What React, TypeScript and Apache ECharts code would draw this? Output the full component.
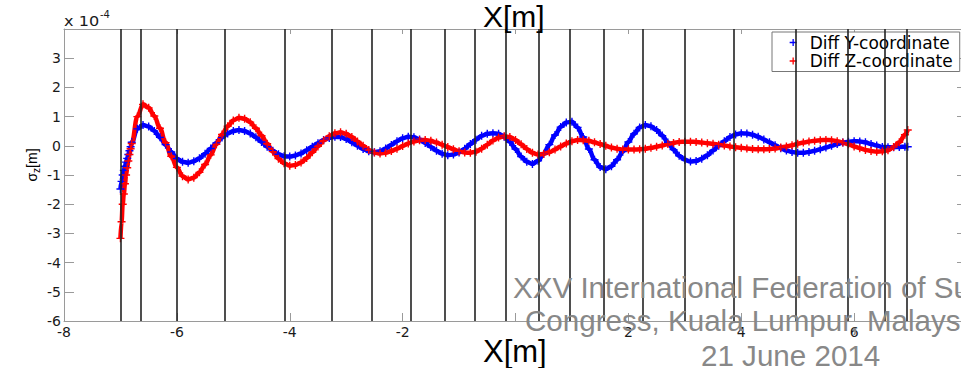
import React, { useEffect, useRef } from "react";
import * as echarts from "echarts";

// x positions [m]
const X = [
  -7.0, -6.98, -6.96, -6.94, -6.92, -6.9, -6.88, -6.86, -6.84, -6.82, -6.8,
  -6.7, -6.6, -6.5, -6.4, -6.3, -6.2, -6.1, -6.0, -5.9, -5.8,
  -5.7, -5.6, -5.5, -5.4, -5.3, -5.2, -5.1, -5.0, -4.9, -4.8,
  -4.7, -4.6, -4.5, -4.4, -4.3, -4.2, -4.1, -4.0, -3.9, -3.8,
  -3.7, -3.6, -3.5, -3.4, -3.3, -3.2, -3.1, -3.0, -2.9, -2.8,
  -2.7, -2.6, -2.5, -2.4, -2.3, -2.2, -2.1, -2.0, -1.9, -1.8,
  -1.7, -1.6, -1.5, -1.4, -1.3, -1.2, -1.1, -1.0, -0.9, -0.8,
  -0.7, -0.6, -0.5, -0.4, -0.3, -0.2, -0.1, 0.0, 0.1, 0.2,
  0.3, 0.4, 0.5, 0.6, 0.7, 0.8, 0.9, 1.0, 1.1, 1.2,
  1.3, 1.4, 1.5, 1.6, 1.7, 1.8, 1.9, 2.0, 2.1, 2.2,
  2.3, 2.4, 2.5, 2.6, 2.7, 2.8, 2.9, 3.0, 3.1, 3.2,
  3.3, 3.4, 3.5, 3.6, 3.7, 3.8, 3.9, 4.0, 4.1, 4.2,
  4.3, 4.4, 4.5, 4.6, 4.7, 4.8, 4.9, 5.0, 5.1, 5.2,
  5.3, 5.4, 5.5, 5.6, 5.7, 5.8, 5.9, 6.0, 6.1, 6.2,
  6.3, 6.4, 6.5, 6.6, 6.7, 6.8, 6.9, 6.95,
];

// Diff Y-coordinate (x 10^-4 m)
const DIFF_Y = [
  -1.48, -1.22, -1.0, -0.84, -0.7, -0.56, -0.43, -0.3, -0.17, -0.03, 0.12,
  0.58, 0.71, 0.66, 0.51, 0.29, 0.04, -0.21, -0.44, -0.55, -0.58,
  -0.53, -0.43, -0.27, -0.09, 0.1, 0.28, 0.42, 0.51, 0.54, 0.51,
  0.42, 0.29, 0.13, -0.03, -0.17, -0.29, -0.36, -0.37, -0.33, -0.26,
  -0.15, -0.03, 0.09, 0.2, 0.27, 0.31, 0.3, 0.23, 0.12, 0.0,
  -0.11, -0.19, -0.22, -0.19, -0.09, 0.03, 0.16, 0.26, 0.31, 0.29,
  0.22, 0.1, -0.04, -0.17, -0.27, -0.32, -0.3, -0.23, -0.1, 0.06,
  0.21, 0.34, 0.41, 0.43, 0.41, 0.31, 0.13, -0.11, -0.37, -0.55,
  -0.62, -0.51, -0.27, 0.04, 0.37, 0.64, 0.8, 0.82, 0.63, 0.3,
  -0.11, -0.48, -0.73, -0.8, -0.7, -0.48, -0.2, 0.13, 0.41, 0.63,
  0.71, 0.67, 0.54, 0.35, 0.11, -0.13, -0.34, -0.48, -0.54, -0.52,
  -0.44, -0.32, -0.16, 0.0, 0.16, 0.3, 0.39, 0.43, 0.42, 0.38,
  0.31, 0.22, 0.12, 0.02, -0.08, -0.16, -0.21, -0.24, -0.24, -0.21,
  -0.17, -0.12, -0.06, 0.0, 0.06, 0.11, 0.14, 0.16, 0.15, 0.12,
  0.06, 0.01, -0.04, -0.05, -0.05, -0.04, -0.03, -0.03,
];

// Diff Z-coordinate (x 10^-4 m)
const DIFF_Z = [
  -3.17, -2.6, -2.0, -1.65, -1.3, -1.0, -0.75, -0.52, -0.3, -0.1, 0.08,
  1.0, 1.42, 1.3, 1.02, 0.6, 0.11, -0.36, -0.74, -1.04, -1.15,
  -1.09, -0.91, -0.64, -0.31, 0.05, 0.39, 0.67, 0.87, 0.96, 0.93,
  0.81, 0.6, 0.35, 0.07, -0.2, -0.44, -0.6, -0.68, -0.66, -0.57,
  -0.42, -0.22, -0.02, 0.18, 0.33, 0.43, 0.46, 0.41, 0.3, 0.15,
  0.0, -0.14, -0.23, -0.26, -0.24, -0.18, -0.1, -0.01, 0.08, 0.15,
  0.19, 0.2, 0.17, 0.11, 0.04, -0.04, -0.12, -0.19, -0.23, -0.24,
  -0.2, -0.1, 0.04, 0.18, 0.28, 0.33, 0.3, 0.2, 0.05, -0.11,
  -0.24, -0.3, -0.28, -0.22, -0.13, -0.02, 0.08, 0.16, 0.2, 0.19,
  0.17, 0.12, 0.06, 0.0, -0.06, -0.1, -0.13, -0.13, -0.13, -0.12,
  -0.1, -0.07, -0.03, 0.01, 0.06, 0.1, 0.13, 0.14, 0.14, 0.13,
  0.11, 0.09, 0.07, 0.04, 0.01, -0.02, -0.05, -0.07, -0.09, -0.11,
  -0.12, -0.12, -0.11, -0.09, -0.06, -0.02, 0.02, 0.07, 0.11, 0.15,
  0.17, 0.19, 0.2, 0.19, 0.16, 0.11, 0.05, -0.02, -0.08, -0.14,
  -0.18, -0.2, -0.19, -0.15, -0.04, 0.12, 0.38, 0.54,
];

// vertical marker lines (x in m)
const VLINES = [
  -7.0, -6.64, -6.0, -5.15, -4.09, -3.26, -2.54, -1.86, -1.25, -0.72, -0.165,
  0.41, 0.97, 1.575, 2.25, 3.0, 3.87, 4.97, 5.88, 6.55, 6.93,
];

const SERIES_NAMES = ["Diff Y-coordinate", "Diff Z-coordinate"];
const X_RANGE = [-8, 8];
const Y_RANGE = [-6, 4];
const WATERMARK = [
  "XXV International Federation of Surveyors",
  "Congress, Kuala Lumpur, Malaysia",
  "21 June 2014",
];

const PLUS = "path://M0,5L10,5M5,0L5,10";
const AXIS_GRAY = "#9a9a9a";
const TICK_FONT = "DejaVu Sans";

export default function App() {
  const ref = useRef<HTMLDivElement>(null);

  useEffect(() => {
    if (!ref.current) return;
    const chart = echarts.init(ref.current, null, { renderer: "svg" });
    const pairs = (ys: number[]) => X.map((x, i) => [x, ys[i]]);

    const curve = (name: string, ys: number[], color: string) => ({
      type: "line",
      name,
      data: pairs(ys),
      smooth: 0.4,
      smoothMonotone: "x",
      symbol: PLUS,
      symbolSize: 8,
      showSymbol: true,
      lineStyle: { color, width: 4.5 },
      itemStyle: { color, borderColor: color, borderWidth: 1.4 },
      z: 3,
    });

    const axisLine = { show: true, onZero: false, lineStyle: { color: AXIS_GRAY, width: 1 } };

    const wm = (text: string, x: number, y: number) => ({
      type: "text",
      x,
      y,
      z: 100,
      scaleX: 1.02,
      style: {
        text,
        fontFamily: "Liberation Sans",
        fontSize: 29,
        fill: "#888888",
        align: "left",
        verticalAlign: "middle",
      },
    });

    chart.setOption({
      animation: false,
      textStyle: { fontFamily: "Liberation Sans" },
      grid: { left: 64, top: 29, width: 903, height: 292 },
      legend: {
        show: true,
        orient: "vertical",
        left: 772,
        top: 32,
        padding: [2, 7, 2, 17],
        itemGap: 1.5,
        itemWidth: 7,
        itemHeight: 7,
        backgroundColor: "#ffffff",
        borderColor: "#777777",
        borderWidth: 1,
        borderRadius: 0,
        itemStyle: { borderWidth: 1.3 },
        textStyle: {
          fontFamily: "DejaVu Sans",
          fontSize: 17,
          lineHeight: 16,
          color: "#000",
          padding: [0, 0, 0, 8],
        },
        data: SERIES_NAMES.map((n) => ({ name: n, icon: PLUS })),
      },
      xAxis: [
        {
          type: "value",
          position: "bottom",
          min: X_RANGE[0],
          max: X_RANGE[1],
          interval: 2,
          axisLine,
          axisTick: { show: true, inside: true, length: 8, lineStyle: { color: AXIS_GRAY } },
          splitLine: { show: false },
          axisLabel: {
            margin: 4,
            fontFamily: TICK_FONT,
            fontSize: 14,
            color: "#1a1a1a",
            formatter: (v: number) => (v === 0 || v === 8 ? "" : String(v)),
          },
        },
        {
          type: "value",
          position: "top",
          min: X_RANGE[0],
          max: X_RANGE[1],
          interval: 2,
          axisLine,
          axisTick: { show: true, inside: true, length: 5, lineStyle: { color: AXIS_GRAY } },
          splitLine: { show: false },
          axisLabel: { show: false },
        },
      ],
      yAxis: [
        {
          type: "value",
          position: "left",
          min: Y_RANGE[0],
          max: Y_RANGE[1],
          interval: 1,
          axisLine,
          axisTick: { show: true, inside: true, length: 10, lineStyle: { color: AXIS_GRAY } },
          splitLine: { show: false },
          axisLabel: {
            margin: 3,
            fontFamily: TICK_FONT,
            fontSize: 14,
            color: "#1a1a1a",
            formatter: (v: number) => (v === 4 ? "" : String(v)),
          },
        },
        {
          type: "value",
          position: "right",
          min: Y_RANGE[0],
          max: Y_RANGE[1],
          interval: 1,
          axisLine,
          axisTick: { show: true, inside: true, length: 10, lineStyle: { color: AXIS_GRAY } },
          splitLine: { show: false },
          axisLabel: { show: false },
        },
      ],
      series: [
        curve(SERIES_NAMES[0], DIFF_Y, "#0000ff"),
        curve(SERIES_NAMES[1], DIFF_Z, "#ff0000"),
        {
          type: "line",
          name: "vlines",
          data: [],
          z: 5,
          silent: true,
          markLine: {
            silent: true,
            symbol: ["none", "none"],
            label: { show: false },
            emphasis: { disabled: true },
            lineStyle: { color: "#222222", width: 1.6, type: "solid" },
            data: VLINES.map((v) => ({ xAxis: v })),
          },
        },
      ],
      graphic: [
        {
          type: "text",
          x: 64,
          y: 21,
          scaleX: 1.15,
          style: {
            text: "x 10",
            fontFamily: TICK_FONT,
            fontSize: 14,
            fill: "#1a1a1a",
            align: "left",
            verticalAlign: "middle",
          },
        },
        {
          type: "text",
          x: 100,
          y: 14,
          style: {
            text: "-4",
            fontFamily: TICK_FONT,
            fontSize: 10,
            fill: "#1a1a1a",
            align: "left",
            verticalAlign: "middle",
          },
        },
        {
          type: "text",
          x: 32,
          y: 165,
          rotation: Math.PI / 2,
          style: {
            text: "{a|σ}{b|z}{a|[m]}",
            align: "center",
            verticalAlign: "middle",
            rich: {
              a: { fontSize: 14, fontFamily: "Liberation Sans", fill: "#000", lineHeight: 18 },
              b: { fontSize: 10, fontFamily: "Liberation Sans", fill: "#000", lineHeight: 18, verticalAlign: "bottom" },
            },
          },
        },
        {
          type: "text",
          x: 483,
          y: 16,
          z: 100,
          style: {
            text: "X[m]",
            fontFamily: "Liberation Sans",
            fontSize: 30,
            fill: "#000",
            align: "left",
            verticalAlign: "middle",
          },
        },
        {
          type: "text",
          x: 483,
          y: 351,
          z: 100,
          style: {
            text: "X[m]",
            fontFamily: "Liberation Sans",
            fontSize: 31,
            fill: "#000",
            align: "left",
            verticalAlign: "middle",
          },
        },
        wm(WATERMARK[0], 513, 288),
        wm(WATERMARK[1], 525, 321),
        wm(WATERMARK[2], 701, 356),
      ],
    });

    return () => chart.dispose();
  }, []);

  return (
    <div
      style={{
        position: "fixed",
        left: 0,
        top: 0,
        width: 961,
        height: 368,
        overflow: "hidden",
        background: "#ffffff",
      }}
    >
      <div ref={ref} style={{ width: 980, height: 368 }} />
    </div>
  );
}
